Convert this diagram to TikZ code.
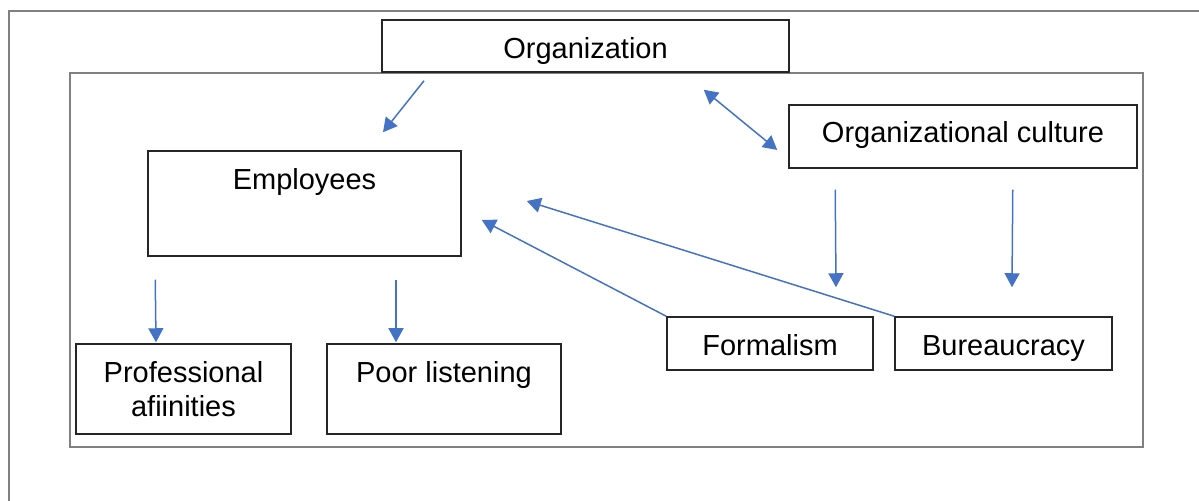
\documentclass[tikz,border=0pt]{standalone}
\usepackage{fontspec}
\setmainfont{Liberation Sans}
\usepackage{tikz}
\usetikzlibrary{arrows.meta,calc}
\definecolor{arrowblue}{RGB}{68,114,196}
\tikzset{box style/.style={
		draw=black!85,
		line width=0.75pt,
		fill=white,
		rectangle,
		inner sep=0pt,
		align=center,
		font=\fontsize{14.5}{17}\selectfont,
	},
	frame style/.style={
		draw=gray,
		line width=1.1pt,
	},
	arrow style/.style={
		draw=arrowblue,
		line width=0.75pt,
		>={Triangle[length=7pt,width=7.5pt]},
		#1,
	},
	arrow style/.default={->}
}

\begin{document}
\begin{tikzpicture}[x=0.5pt,y=-0.5pt]
	\useasboundingbox (0,0) rectangle (1199,501);
	
	\draw[frame style] (9,501) -- (9,11) -- (1199,11);
	\draw[frame style] (70,73) rectangle (1143,447);
	
	\node[box style, minimum width=203.5pt, text height=19.25pt, text depth=6.75pt] (Organization) at (585.5,46) {Organization};
	
	\node[box style, minimum width=174pt, text height=19pt, text depth=12.5pt] (Culture) at (963,136.5) {Organizational culture};
	
	\node[box style, minimum width=156.5pt, text height=19.5pt, text depth=33pt] (Employees) at (304.5,203.5) {Employees};
	
	\node[box style, minimum width=107.5pt, minimum height=45pt] (Affinities) at (183.5,389) {Professional\\afiinities};
	
	\node[box style, minimum width=117pt, text height=19.25pt, text depth=25.75pt] (Listening) at (444,389) {Poor listening};
	
	\node[box style, minimum width=103pt, text height=19.25pt, text depth=7.25pt] (Formalism) at (770,343.5) {Formalism};
	
	\node[box style, minimum width=108.5pt, text height=19.25pt, text depth=7.25pt] (Bureaucracy) at (1003.5,343.5) {Bureaucracy};
	
	\draw[arrow style] ($(Organization.south)+(-161.5,8)$) -- ($(Employees.north)+(78.5,-18)$);
	\draw[arrow style=<->] ($(Organization.south east)+(-86,17)$) -- ($(Culture.west)+(-11,13.5)$);
	
	\draw[arrow style] ($(Culture.south west)+(47,21)$) -- ($(Formalism.north)+(66,-29)$);
	\draw[arrow style] ($(Culture.south east)+(-125,21)$) -- ($(Bureaucracy.north)+(8.5,-29)$);
	
	\draw[arrow style] ($(Employees.south west)+(8,23)$) -- ($(Affinities.north)+(-27.5,-1)$);
	\draw[arrow style] ($(Employees.south)+(91.5,23)$) -- ($(Listening.north)+(-48,-1)$);
	
	\draw[arrow style] (Formalism.north west) -- ($(Employees.east)+(20,16.5)$);
	\draw[arrow style] (Bureaucracy.north west) -- ($(Employees.east)+(65,-2.5)$);
\end{tikzpicture}
\end{document}
